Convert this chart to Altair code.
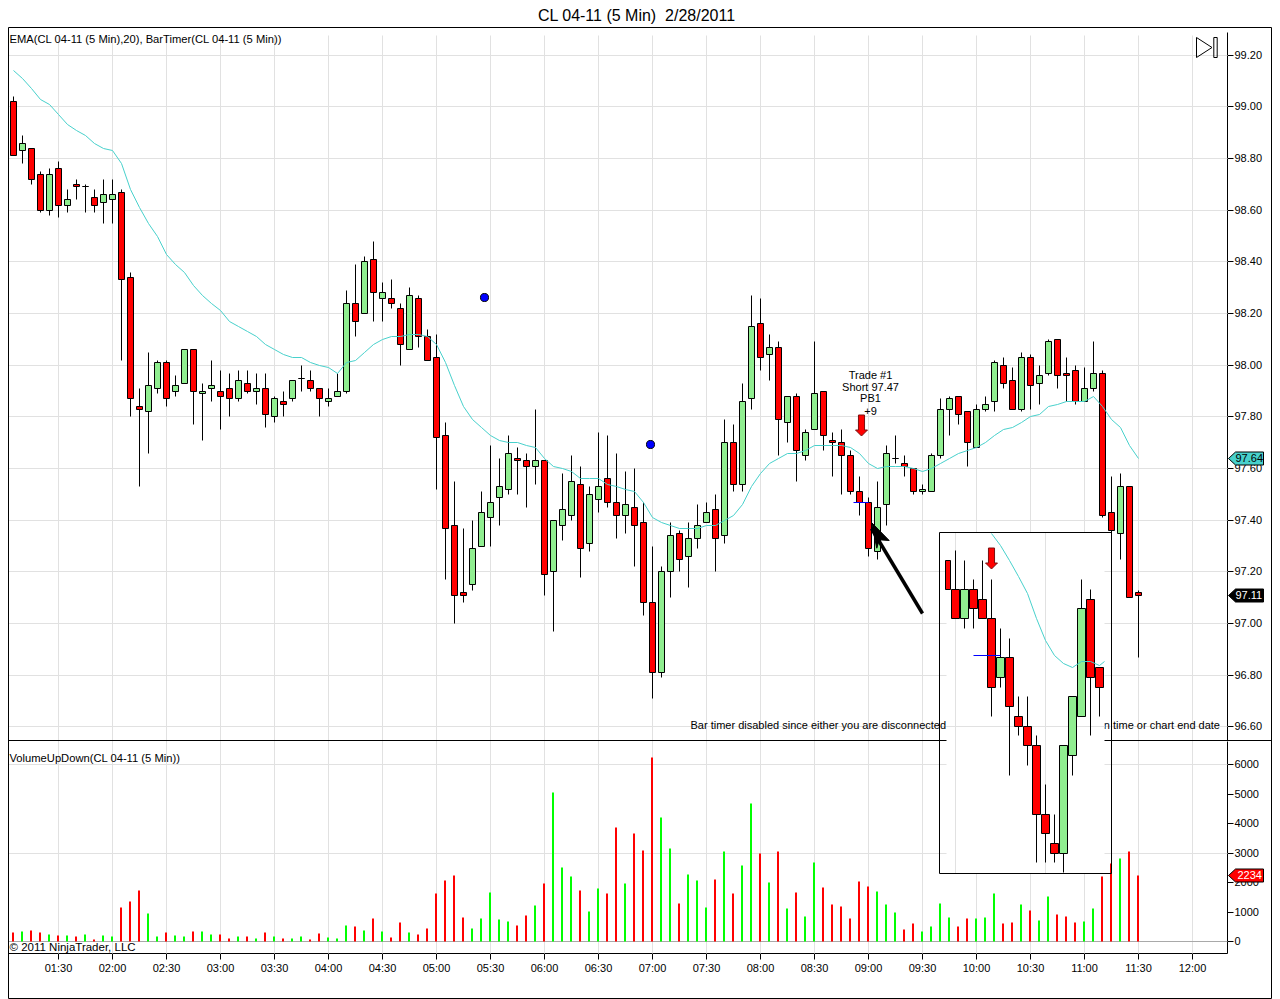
import altair as alt
import pandas as pd

# ---- main chart: 5-minute bars from 01:05, one per list entry ----
opens = [99.02,98.83,98.84,98.74,98.60,98.76,98.62,98.70,98.69,98.65,98.63,98.64,98.67,98.34,97.84,97.82,97.91,98.01,97.90,97.93,98.06,97.89,97.91,97.90,97.91,97.87,97.93,97.90,97.91,97.80,97.86,97.87,97.95,97.94,97.91,97.86,97.88,
 97.90,98.24,98.20,98.41,98.26,98.26,98.22,98.06,98.26,98.11,98.03,97.73,97.38,97.12,97.15,97.30,97.41,97.49,97.52,97.64,97.63,97.61,97.63,97.20,97.38,97.42,97.54,97.31,97.48,97.56,97.47,97.42,97.45,97.39,97.08,96.81,
 97.20,97.35,97.26,97.33,97.39,97.44,97.34,97.70,97.54,97.87,98.16,98.04,98.07,97.78,97.88,97.65,97.75,97.90,97.71,97.70,97.65,97.51,97.47,97.28,97.46,97.64,97.62,97.60,97.51,
 97.51,97.65,97.83,97.88,97.82,97.68,97.83,97.86,98.00,97.94,97.83,98.03,97.93,97.97,98.10,97.97,97.98,97.86,97.91,97.97,97.43,97.35,97.53,97.12]
closes = [98.81,98.86,98.72,98.60,98.74,98.62,98.64,98.69,98.69,98.62,98.66,98.66,98.33,97.87,97.83,97.92,98.01,97.87,97.92,98.06,97.90,97.90,97.92,97.88,97.87,97.94,97.90,97.91,97.81,97.87,97.85,97.94,97.95,97.91,97.87,97.87,97.90,
 98.24,98.17,98.40,98.28,98.28,98.24,98.08,98.27,98.11,98.02,97.72,97.37,97.11,97.11,97.29,97.43,97.47,97.53,97.66,97.63,97.61,97.63,97.19,97.40,97.44,97.55,97.29,97.50,97.53,97.47,97.42,97.46,97.38,97.08,96.81,97.20,
 97.34,97.25,97.33,97.38,97.43,97.33,97.70,97.54,97.86,98.15,98.03,98.07,97.79,97.88,97.67,97.74,97.89,97.73,97.70,97.65,97.51,97.47,97.29,97.45,97.66,97.64,97.61,97.51,97.52,
 97.65,97.83,97.87,97.81,97.70,97.83,97.85,98.01,97.93,97.83,98.03,97.92,97.96,98.09,97.96,97.96,97.86,97.91,97.97,97.42,97.36,97.53,97.10,97.11]
highs = [99.04,98.89,98.84,98.75,98.76,98.79,98.68,98.72,98.70,98.68,98.72,98.72,98.68,98.36,97.91,98.05,98.02,98.02,97.96,98.06,98.06,97.93,98.02,97.98,97.97,97.98,97.98,97.97,97.97,97.88,97.90,97.94,98.00,97.98,97.91,97.91,97.97,
 98.29,98.39,98.42,98.48,98.32,98.33,98.24,98.30,98.27,98.14,98.12,97.78,97.55,97.37,97.40,97.51,97.69,97.64,97.73,97.68,97.66,97.83,97.63,97.40,97.58,97.65,97.61,97.53,97.74,97.73,97.66,97.59,97.60,97.47,97.30,97.22,
 97.39,97.36,97.39,97.46,97.47,97.50,97.79,97.77,97.93,98.27,98.26,98.12,98.09,97.88,97.89,97.75,98.09,97.90,97.74,97.75,97.67,97.57,97.49,97.55,97.69,97.73,97.65,97.60,97.54,
 97.66,97.87,97.88,97.88,97.82,97.85,97.88,98.02,98.03,97.99,98.05,98.04,98.00,98.10,98.10,98.03,98.00,97.99,98.09,97.98,97.57,97.58,97.53,97.13]
lows = [98.81,98.78,98.70,98.59,98.58,98.57,98.59,98.64,98.59,98.59,98.55,98.55,98.02,97.80,97.53,97.66,97.89,97.84,97.88,97.93,97.77,97.71,97.86,97.75,97.80,97.86,97.89,97.85,97.76,97.78,97.80,97.86,97.90,97.90,97.80,97.84,97.88,
 97.89,98.11,98.20,98.17,98.17,98.22,98.00,98.06,98.07,98.02,97.52,97.17,97.00,97.08,97.13,97.30,97.30,97.38,97.50,97.50,97.45,97.54,97.11,96.97,97.32,97.40,97.18,97.28,97.43,97.45,97.33,97.35,97.22,97.03,96.71,96.79,
 97.10,97.20,97.14,97.29,97.39,97.20,97.31,97.51,97.51,97.83,97.98,97.94,97.65,97.70,97.55,97.63,97.75,97.67,97.57,97.50,97.50,97.42,97.26,97.25,97.38,97.62,97.57,97.50,97.50,
 97.51,97.64,97.73,97.77,97.61,97.68,97.82,97.82,97.91,97.83,97.82,97.83,97.85,97.96,97.91,97.86,97.85,97.86,97.90,97.41,97.25,97.25,97.10,96.87]
ema = [99.14,99.11,99.07,99.03,99.01,98.97,98.93,98.91,98.89,98.86,98.84,98.83,98.78,98.68,98.61,98.55,98.50,98.43,98.39,98.36,98.31,98.27,98.24,98.21,98.17,98.15,98.13,98.11,98.08,98.06,98.04,98.03,98.03,98.01,98.00,97.99,97.97,
 98.01,98.02,98.05,98.08,98.10,98.11,98.11,98.12,98.12,98.11,98.08,98.01,97.92,97.84,97.79,97.76,97.73,97.71,97.70,97.70,97.69,97.68,97.64,97.61,97.60,97.59,97.56,97.56,97.56,97.54,97.53,97.52,97.51,97.47,97.41,97.39,
 97.38,97.37,97.37,97.37,97.38,97.38,97.40,97.42,97.46,97.53,97.58,97.62,97.64,97.66,97.66,97.67,97.69,97.69,97.69,97.69,97.68,97.66,97.62,97.60,97.61,97.61,97.61,97.60,97.59,
 97.60,97.62,97.64,97.66,97.67,97.68,97.70,97.73,97.75,97.76,97.78,97.80,97.81,97.84,97.85,97.86,97.86,97.86,97.88,97.84,97.79,97.76,97.69,97.64]
volumes = [316,350,384,316,249,215,215,181,249,79,215,181,1164,1367,1740,960,181,316,215,181,350,350,249,249,113,181,181,113,316,181,113,113,181,79,282,147,113,
 554,520,384,791,350,147,655,316,249,452,1638,2079,2249,825,452,791,1672,757,689,554,893,1232,1977,5062,2520,2215,1740,1028,1808,1638,3876,1977,3672,3096,6249,4215,
 3164,1300,2283,2079,1164,2113,3062,1638,2588,4690,2995,2011,3062,1130,1672,859,2689,1842,1266,1198,791,2045,1876,1706,1266,994,418,622,350,
 520,1300,825,520,791,791,825,1638,622,655,1266,1062,723,1537,927,859,655,689,1130,2215,2655,2825,3062,2234]
up = [0,1,0,0,1,0,1,0,1,0,1,1,0,0,0,1,1,0,1,1,0,1,1,0,0,1,0,1,0,1,0,1,1,0,0,1,1,
 1,0,1,0,1,0,0,1,0,0,0,0,0,0,1,1,1,1,1,0,0,1,0,1,1,1,0,1,1,0,0,1,0,0,0,1,
 1,0,1,1,1,0,1,0,1,1,0,1,0,1,0,1,1,0,0,0,0,0,0,1,1,1,0,0,1,
 1,1,1,0,0,1,1,1,0,0,1,0,1,1,0,0,0,1,1,0,0,1,0,0]

# ---- pasted inset snapshot ----
in_open = [97.57,97.54,97.51,97.54,97.53,97.51,97.45,97.47,97.41,97.40,97.38,97.31,97.28,97.27,97.37,97.41,97.53,97.46]
in_close = [97.54,97.51,97.54,97.52,97.51,97.44,97.47,97.42,97.40,97.38,97.31,97.29,97.27,97.38,97.43,97.52,97.45,97.44]
in_high = [97.57,97.58,97.57,97.55,97.57,97.55,97.50,97.49,97.43,97.43,97.39,97.34,97.31,97.38,97.43,97.55,97.54,97.46]
in_low = [97.54,97.51,97.50,97.50,97.51,97.41,97.44,97.35,97.39,97.36,97.26,97.26,97.26,97.25,97.35,97.41,97.39,97.41]
in_up = [0,0,1,0,0,0,1,0,0,0,0,0,0,1,1,1,0,0]
in_ema_x = [5,6,7,8,9,10,11,12,13,14,15,16,17,17.5]
in_ema = [97.597,97.585,97.57,97.553,97.536,97.51,97.488,97.472,97.464,97.46,97.466,97.466,97.462,97.466]

axis_times = [90 + 30 * k for k in range(22)]
price_ticks = [96.6,96.8,97.0,97.2,97.4,97.6,97.8,98.0,98.2,98.4,98.6,98.8,99.0,99.2]
volume_ticks = [0,1000,2000,3000,4000,5000,6000]
volume_grid = [3000,6000]
in_grid_idx = [1,11]
in_grid_price = [97.40]

TXT = "Liberation Sans"
GRID = "#e1e1e1"
n = len(opens)
bars = pd.DataFrame({"t":[65+5*i for i in range(n)],"o":opens,"c":closes,"h":highs,"l":lows,"ema":ema,"v":volumes,"up":up})
ins = pd.DataFrame({"k":list(range(18)),"o":in_open,"c":in_close,"h":in_high,"l":in_low,"up":in_up})
ins["left"] = [max(k-0.39,-0.1) for k in ins.k]
ins["right"] = [k+0.39 for k in ins.k]

one = pd.DataFrame({"a":[0]})
xscale = alt.Scale(domain=[62.2222,739.4444], range=[0,1219], round=True, nice=False, zero=False, padding=0)
yprice = alt.Scale(domain=[96.5475,99.288], range=[713,5], round=True, nice=False, zero=False, padding=0)
yvol = alt.Scale(domain=[-393.0,6790.0], range=[926,714], round=True, nice=False, zero=False, padding=0)
xin = alt.Scale(domain=[0,17], range=[938,1091], nice=False, zero=False, round=True, padding=0)
yin = alt.Scale(domain=[97.2492,97.5983], range=[846,505], round=True, nice=False, zero=False, padding=0)

X = lambda f: alt.X(f, type="quantitative", scale=xscale, axis=None)
Y = lambda f: alt.Y(f, type="quantitative", scale=yprice, axis=None)
V = lambda f: alt.Y(f, type="quantitative", scale=yvol, axis=None)
x_axis = alt.Axis(values=axis_times, orient="bottom", grid=False, title=None, translate=0, domain=True, domainColor="black",
    tickColor="black", tickSize=6, labelFont=TXT, labelFontSize=11, labelColor="black", labelPadding=3,
    labelExpr="(floor(datum.value/60)<10?'0':'')+floor(datum.value/60)+':'+(datum.value%60==0?'00':'30')")
price_axis = alt.Axis(values=price_ticks, orient="right", grid=False, title=None, translate=0, domain=True, domainColor="black",
    tickColor="black", tickSize=6, labelFont=TXT, labelFontSize=11, labelColor="black", labelPadding=1, format=".2f")
vol_axis = alt.Axis(values=volume_ticks, orient="right", grid=False, title=None, translate=0, domain=True, domainColor="black",
    tickColor="black", tickSize=6, labelFont=TXT, labelFontSize=11, labelColor="black", labelPadding=1, format="d")

def text_at(s, x, y, size=11, align="left", color="black"):
    return alt.Chart(one).mark_text(font=TXT, fontSize=size, align=align, baseline="middle", color=color).encode(
        x=alt.value(x), y=alt.value(y), text=alt.value(s))

def hline(y, x1=0, x2=1219, color="black"):
    return alt.Chart(one).mark_rule(color=color, strokeWidth=1).encode(x=alt.value(x1), x2=alt.value(x2), y=alt.value(y))

def vline(x, y1, y2, color="black"):
    return alt.Chart(one).mark_rule(color=color, strokeWidth=1).encode(x=alt.value(x), y=alt.value(y1), y2=alt.value(y2))

def badge(data, xv, yenc, fill, stroke="black"):
    path = "M0,0 L0.7,-0.65 L3.5,-0.65 L3.5,0.65 L0.7,0.65 Z"
    return alt.Chart(data).mark_point(shape=path, size=400, filled=True, fill=fill, stroke=stroke, strokeWidth=1, opacity=1).encode(
        x=alt.value(xv), y=yenc)

ARROW = "M-0.29,-1 L0.29,-1 L0.29,0.43 L0.57,0.43 L0,1 L-0.57,0.43 L-0.29,0.43 Z"
HEAD = "M0,0 L1.77,1.8 L0.77,1.73 L0.53,2.57 Z"

# ---- price pane ----
price_grid = alt.Chart(pd.DataFrame({"p":price_ticks})).mark_rule(color=GRID, strokeWidth=1).encode(
    x=alt.value(0), x2=alt.value(1219), y=Y("p"))
time_grid = alt.Chart(pd.DataFrame({"t":axis_times})).mark_rule(color=GRID, strokeWidth=1).encode(
    x=alt.X("t", type="quantitative", scale=xscale, axis=x_axis), y=alt.value(8), y2=alt.value(926))
bar_timer = text_at("Bar timer disabled since either you are disconnected or current time is outside session time or chart end date", 682, 698.5, 11)
wicks = alt.Chart(bars).mark_rule(color="black", strokeWidth=1).encode(x=X("t"), y=Y("h"), y2=alt.Y2("l"))
ema_line = alt.Chart(bars).mark_line(color="#48D1CC", strokeWidth=1, interpolate="linear").encode(x=X("t"), y=Y("ema"))
bodies = alt.Chart(bars).mark_bar(size=6, stroke="black", strokeWidth=1, orient="vertical").encode(
    x=X("t"), y=Y("o"), y2=alt.Y2("c"),
    color=alt.condition("datum.up==1", alt.value("#90EE90"), alt.value("#FF0000")))
dots = alt.Chart(pd.DataFrame({"t":[326.67,418.9],"p":[98.263,97.692]})).mark_point(filled=True, fill="#0000FF", stroke="black", strokeWidth=1, size=65, opacity=1).encode(x=X("t"), y=Y("p"))
entry = alt.Chart(pd.DataFrame({"t":[531.8],"t2":[540.0],"p":[97.47]})).mark_rule(color="#0000FF", strokeWidth=1).encode(x=X("t"), x2=alt.X2("t2"), y=Y("p"))
trade_arrow = alt.Chart(pd.DataFrame({"t":[536.0],"p":[97.768]})).mark_point(shape=ARROW, size=441, filled=True, fill="#FF0000", stroke="#7a1010", strokeWidth=1, opacity=1).encode(x=X("t"), y=Y("p"))
trade_text = alt.Chart(pd.DataFrame({"s":["Trade #1","Short 97.47","PB1","+9"],"t":[541.0]*4,"p":[97.96,97.915,97.87,97.82]})).mark_text(font=TXT, fontSize=11, color="black").encode(x=X("t"), y=Y("p"), text="s:N")
pointer = alt.Chart(pd.DataFrame({"t":[541.8,570.1],"p":[97.37,97.039]})).mark_line(color="black", strokeWidth=3.5).encode(x=X("t"), y=Y("p"))
pointer_head = alt.Chart(pd.DataFrame({"t":[541.8],"p":[97.391]})).mark_point(shape=HEAD, size=400, filled=True, fill="black", stroke="black", strokeWidth=1, opacity=1).encode(x=X("t"), y=Y("p"))
last_val = pd.DataFrame({"p":[97.11],"s":["97.11"]})
ema_val = pd.DataFrame({"p":[97.64],"s":["97.64"]})
price_axis_l = alt.Chart(pd.DataFrame({"p":[97.0]})).mark_rule(opacity=0).encode(
    x=alt.value(0), y=alt.Y("p", type="quantitative", scale=yprice, axis=price_axis))
badge_ema = badge(ema_val, 1220, Y("p"), "#48D1CC")
badge_last = badge(last_val, 1220, Y("p"), "black")
badge_ema_t = alt.Chart(ema_val).mark_text(font=TXT, fontSize=11, color="black", align="left").encode(x=alt.value(1227), y=Y("p"), text="s:N")
badge_last_t = alt.Chart(last_val).mark_text(font=TXT, fontSize=11, color="white", align="left").encode(x=alt.value(1227), y=Y("p"), text="s:N")

price_layer = alt.layer(price_grid, time_grid, bar_timer, wicks, bodies, ema_line, dots, entry, trade_arrow, trade_text,
                        pointer, pointer_head, price_axis_l, badge_ema, badge_last, badge_ema_t, badge_last_t).resolve_axis(x="independent", y="independent")

# ---- volume pane ----
vol_grid = alt.Chart(pd.DataFrame({"v":volume_grid})).mark_rule(color=GRID, strokeWidth=1).encode(x=alt.value(0), x2=alt.value(1219), y=V("v"))
vol_zero = alt.Chart(pd.DataFrame({"v":[0]})).mark_rule(color="#a9a9a9", strokeWidth=1).encode(x=alt.value(0), x2=alt.value(1219), y=V("v"))
vol_bars = alt.Chart(bars).mark_bar(size=2, xOffset=-0.5, orient="vertical").encode(
    x=X("t"), y=alt.Y("v", type="quantitative", scale=yvol, axis=vol_axis), y2=alt.Y2("z:Q"),
    color=alt.condition("datum.up==1", alt.value("#00FF00"), alt.value("#FF0000"))).transform_calculate(z="0")
vol_val = pd.DataFrame({"v":[2234],"s":["2234"]})
badge_vol = badge(vol_val, 1220, V("v"), "#FF0000")
badge_vol_t = alt.Chart(vol_val).mark_text(font=TXT, fontSize=11, color="white", align="left").encode(x=alt.value(1229), y=V("v"), text="s:N")
vol_layer = alt.layer(vol_grid, vol_zero, vol_bars, badge_vol, badge_vol_t).resolve_axis(x="independent", y="independent")

main_layer = alt.layer(price_layer, vol_layer).resolve_scale(y="independent").resolve_axis(x="independent", y="independent")

# ---- frame ----
frame_layer = alt.layer(hline(0, 0, 1263), hline(713, 0, 1263), hline(971, 0, 1263), vline(0, 0, 971), vline(1263, 0, 971))

# ---- inset snapshot ----
XI = lambda f: alt.X(f, type="quantitative", scale=xin, axis=None)
YI = lambda f: alt.Y(f, type="quantitative", scale=yin, axis=None)
in_bg = alt.Chart(one).mark_rect(color="white").encode(x=alt.value(938), x2=alt.value(1096), y=alt.value(505), y2=alt.value(846))
in_vgrid = alt.Chart(pd.DataFrame({"k":in_grid_idx})).mark_rule(color=GRID, strokeWidth=1).encode(x=XI("k"), y=alt.value(505), y2=alt.value(846))
in_hgrid = alt.Chart(pd.DataFrame({"p":in_grid_price})).mark_rule(color=GRID, strokeWidth=1).encode(x=alt.value(938), x2=alt.value(1096), y=YI("p"))
in_wicks = alt.Chart(ins[ins.k>0]).mark_rule(color="black", strokeWidth=1).encode(x=XI("k"), y=YI("h"), y2=alt.Y2("l"))
in_bodies = alt.Chart(ins).mark_rect(stroke="black", strokeWidth=1).encode(
    x=XI("left"), x2=alt.X2("right"), y=YI("o"), y2=alt.Y2("c"),
    color=alt.condition("datum.up==1", alt.value("#90EE90"), alt.value("#FF0000")))
in_ema_line = alt.Chart(pd.DataFrame({"k":in_ema_x,"p":in_ema})).mark_line(color="#48D1CC", strokeWidth=1).encode(x=XI("k"), y=YI("p"))
in_entry = alt.Chart(pd.DataFrame({"k":[3.0],"k2":[6.0],"p":[97.472]})).mark_rule(color="#0000FF", strokeWidth=1).encode(x=XI("k"), x2=alt.X2("k2"), y=YI("p"))
in_arrow = alt.Chart(pd.DataFrame({"k":[5.0],"p":[97.572]})).mark_point(shape=ARROW, size=441, filled=True, fill="#FF0000", stroke="#7a1010", strokeWidth=1, opacity=1).encode(x=XI("k"), y=YI("p"))
in_frame = [hline(505, 931, 1103), hline(846, 931, 1103), vline(931, 505, 846), vline(1103, 505, 846)]
inset_layer = alt.layer(in_bg, in_vgrid, in_hgrid, in_wicks, in_bodies, in_ema_line, in_entry, in_arrow, *in_frame)

# ---- captions ----
icon = "M-1.0,-1 L0.55,0 L-1.0,1 Z M0.73,-1 L1.07,-1 L1.07,1 L0.73,1 Z"
play = alt.Chart(one).mark_point(shape=icon, size=400, filled=False, stroke="black", strokeWidth=1, opacity=1).encode(x=alt.value(1198), y=alt.value(20))
captions = [text_at("EMA(CL 04-11 (5 Min),20), BarTimer(CL 04-11 (5 Min))", 1, 12, 11.2),
            text_at("VolumeUpDown(CL 04-11 (5 Min))", 1, 731, 11.2),
            text_at("\u00a9 2011 NinjaTrader, LLC", 1, 920, 11.5),
            text_at("CL 04-11 (5 Min)\u00a0\u00a02/28/2011", 628, -12, 16, "center")]
top_layer = alt.layer(play, *captions)

chart = alt.layer(main_layer, frame_layer, inset_layer, top_layer).resolve_scale(x="independent", y="independent").resolve_axis(x="independent", y="independent").properties(
    width=1219, height=926, background="white",
    padding={"left":0.5, "top":19.5, "right":44.5, "bottom":45.5},
    autosize=alt.AutoSizeParams(type="none", contains="content"),
).configure_view(stroke=None)

chart.save("out.html", embed_options={"renderer": "svg", "actions": False})
